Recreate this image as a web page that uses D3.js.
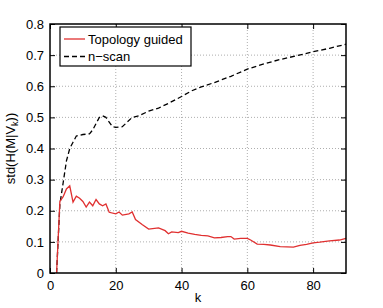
<!DOCTYPE html>
<html>
<head>
<meta charset="utf-8">
<script src="https://cdn.jsdelivr.net/npm/d3@7"></script>
<style>
  body { margin: 0; background: #fff; }
  svg { font-family: "Liberation Sans", Arial, sans-serif; }
  .grid line { stroke: #999; stroke-dasharray: 1,2; stroke-width: 0.8; }
</style>
</head>
<body>
<div id="chart"></div>
<script>
const xTicks = [0, 20, 40, 60, 80];
const yTicks = [0, 0.1, 0.2, 0.3, 0.4, 0.5, 0.6, 0.7, 0.8];

// Topology guided (red)
const topoK = [2, 3, 4, 5, 6, 7, 8, 9, 10, 11, 12, 13, 14, 15, 16, 17, 18, 20, 21, 22, 24, 25, 26, 28, 30, 33, 35, 36, 37, 39, 40, 42, 44, 46, 48, 50, 52, 54, 55, 56, 58, 60, 61, 63, 65, 67, 70, 72, 74, 76, 78, 80, 82, 85, 88, 90];
const topoV = [0, 0.23, 0.245, 0.27, 0.28, 0.228, 0.247, 0.24, 0.23, 0.212, 0.228, 0.216, 0.236, 0.222, 0.216, 0.222, 0.195, 0.19, 0.196, 0.186, 0.19, 0.196, 0.172, 0.156, 0.141, 0.145, 0.136, 0.126, 0.132, 0.13, 0.134, 0.128, 0.124, 0.121, 0.119, 0.113, 0.114, 0.117, 0.117, 0.109, 0.111, 0.111, 0.106, 0.093, 0.092, 0.09, 0.085, 0.084, 0.083, 0.089, 0.092, 0.097, 0.099, 0.103, 0.106, 0.111];

// n-scan (black dashed)
const nscanK = [2, 3, 4, 5, 6, 7, 8, 10, 12, 13, 14, 15, 16, 17, 18, 19, 20, 22, 23, 25, 27, 30, 33, 36, 40, 43, 46, 50, 55, 60, 65, 70, 75, 80, 85, 90];
const nscanV = [0, 0.22, 0.29, 0.36, 0.4, 0.42, 0.44, 0.445, 0.447, 0.46, 0.48, 0.5, 0.505, 0.5, 0.485, 0.47, 0.468, 0.47, 0.48, 0.5, 0.505, 0.52, 0.53, 0.545, 0.567, 0.585, 0.598, 0.612, 0.632, 0.655, 0.672, 0.686, 0.698, 0.711, 0.722, 0.735];

const W = 383, H = 308;
const m = { left: 50, right: 37, top: 24, bottom: 35 };
const iw = W - m.left - m.right, ih = H - m.top - m.bottom;

const svg = d3.select('#chart').append('svg')
  .attr('width', W).attr('height', H);

const x = d3.scaleLinear().domain([0, 90]).range([m.left, m.left + iw]);
const y = d3.scaleLinear().domain([0, 0.8]).range([m.top + ih, m.top]);

// grid
const grid = svg.append('g').attr('class', 'grid');
grid.selectAll('.gx').data(xTicks.filter(d => d > 0)).join('line')
  .attr('x1', d => x(d)).attr('x2', d => x(d))
  .attr('y1', m.top).attr('y2', m.top + ih);
grid.selectAll('.gy').data(yTicks.filter(d => d > 0 && d < 0.8)).join('line')
  .attr('x1', m.left).attr('x2', m.left + iw)
  .attr('y1', d => y(d)).attr('y2', d => y(d));

// lines
const topo = topoK.map((k, i) => [k, topoV[i]]);
const nscan = nscanK.map((k, i) => [k, nscanV[i]]);
const line = d3.line().x(d => x(d[0])).y(d => y(d[1]));

svg.append('path').datum(nscan).attr('d', line)
  .attr('fill', 'none').attr('stroke', '#000').attr('stroke-width', 1.3)
  .attr('stroke-dasharray', '5,3');
svg.append('path').datum(topo).attr('d', line)
  .attr('fill', 'none').attr('stroke', '#e03030').attr('stroke-width', 1.3);

// axes with inward ticks
const fmtY = d => d === 0 ? '0' : d3.format('.1f')(d);
const axB = svg.append('g').attr('transform', `translate(0,${m.top + ih})`)
  .call(d3.axisBottom(x).tickValues(xTicks).tickSizeInner(-5).tickSizeOuter(0).tickPadding(8));
const axL = svg.append('g').attr('transform', `translate(${m.left},0)`)
  .call(d3.axisLeft(y).tickValues(yTicks).tickFormat(fmtY).tickSizeInner(-5).tickSizeOuter(0).tickPadding(6));
const axT = svg.append('g').attr('transform', `translate(0,${m.top})`)
  .call(d3.axisTop(x).tickValues(xTicks).tickSizeInner(-5).tickSizeOuter(0).tickFormat(''));
const axR = svg.append('g').attr('transform', `translate(${m.left + iw},0)`)
  .call(d3.axisRight(y).tickValues(yTicks).tickSizeInner(-5).tickSizeOuter(0).tickFormat(''));
[axB, axL, axT, axR].forEach(a => {
  a.select('.domain').remove();
  a.selectAll('line').attr('stroke', '#000');
  a.selectAll('text').attr('font-size', 13).attr('fill', '#000')
    .attr('font-family', '"Liberation Sans", Arial, sans-serif');
});

svg.append('rect').attr('x', m.left).attr('y', m.top).attr('width', iw).attr('height', ih)
  .attr('fill', 'none').attr('stroke', '#000').attr('stroke-width', 1.5);

// axis labels
svg.append('text').attr('x', x(45)).attr('y', 302).attr('text-anchor', 'middle')
  .attr('font-size', 13).text('k');
const yl = svg.append('text').attr('transform', `translate(15,${y(0.4)}) rotate(-90)`)
  .attr('text-anchor', 'middle').attr('font-size', 13);
yl.append('tspan').text('std(H(M|V');
yl.append('tspan').attr('font-size', 9).attr('dy', 3).text('k');
yl.append('tspan').attr('dy', -3).text('))');

// legend
const lg = svg.append('g').attr('transform', 'translate(60,27)');
lg.append('rect').attr('width', 131).attr('height', 39)
  .attr('fill', '#fff').attr('stroke', '#000').attr('stroke-width', 1.2);
const items = [
  { name: 'Topology guided', color: '#e03030', dash: null },
  { name: 'n\u2212scan', color: '#000', dash: '5,3' }
];
items.forEach((d, i) => {
  const cy = 12 + i * 17.5;
  lg.append('line').attr('x1', 4).attr('x2', 25).attr('y1', cy).attr('y2', cy)
    .attr('stroke', d.color).attr('stroke-width', 1.3).attr('stroke-dasharray', d.dash);
  lg.append('text').attr('x', 28).attr('y', cy + 4.5).attr('font-size', 13).text(d.name);
});
</script>
</body>
</html>
